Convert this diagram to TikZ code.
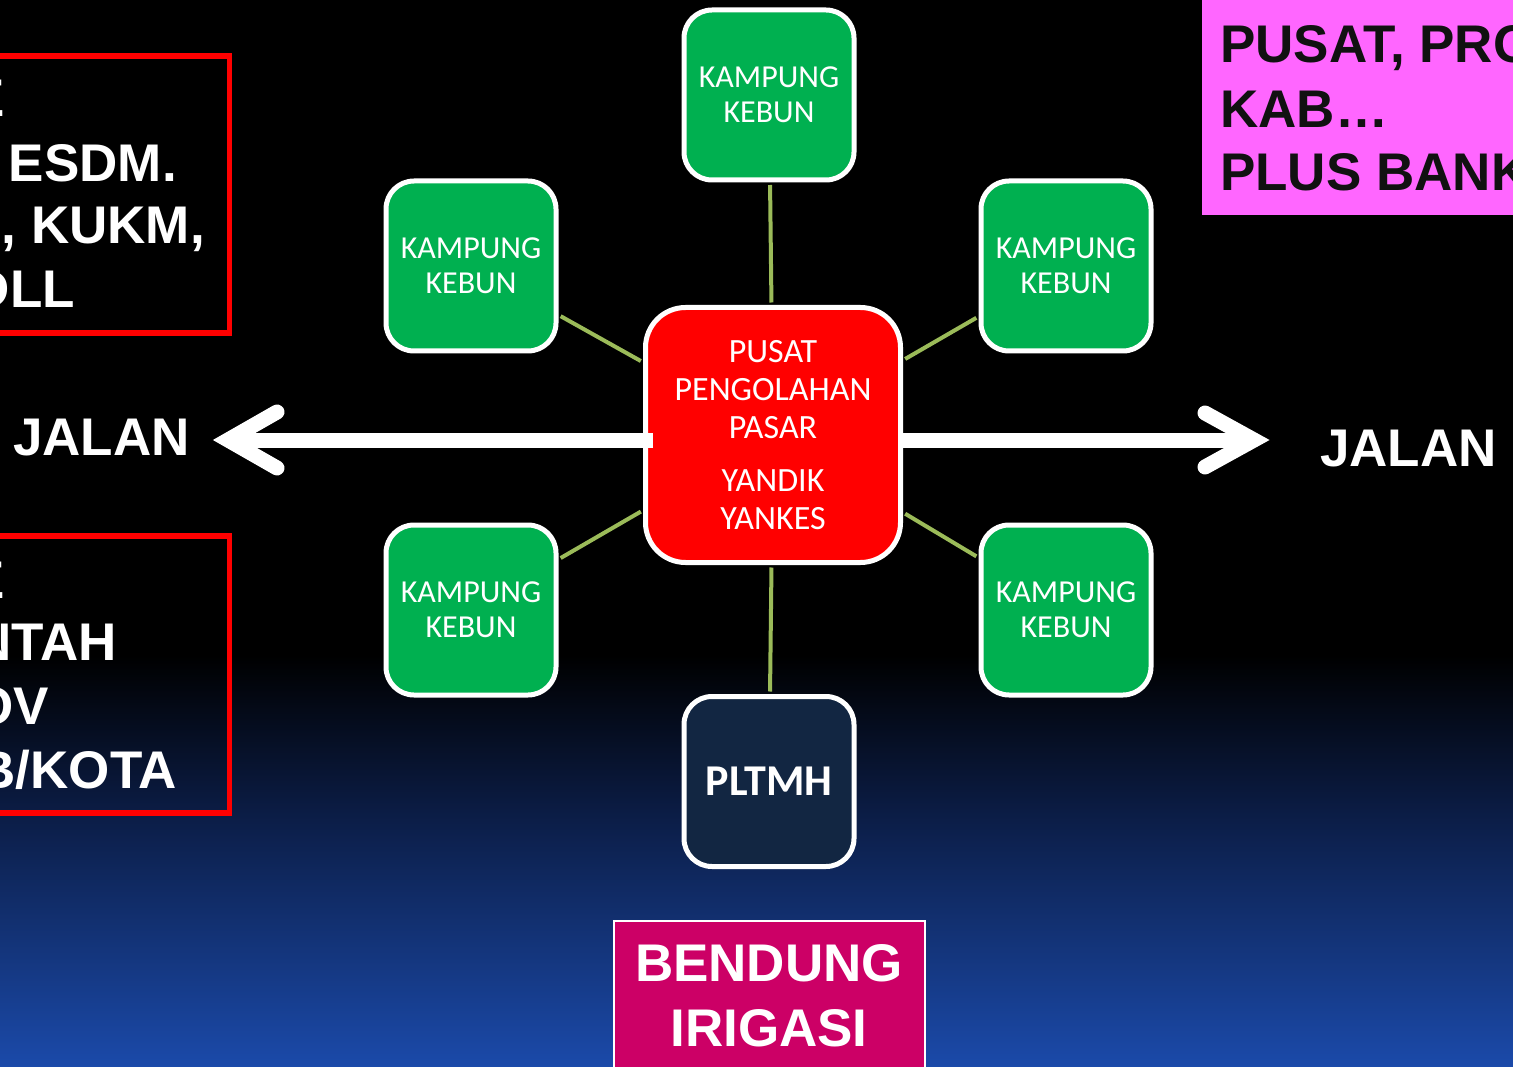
\documentclass[tikz,border=0pt]{standalone}
\usepackage{fontspec}
\newfontfamily\arialfont{Liberation Sans}
\newfontfamily\calfont{Carlito}
\usetikzlibrary{calc}

\definecolor{kampung}{RGB}{0,176,80}
\definecolor{linkgreen}{RGB}{155,187,89}
\definecolor{pusatred}{RGB}{255,0,0}
\definecolor{pltmhblue}{RGB}{18,38,66}
\definecolor{pinkfill}{RGB}{255,102,255}
\definecolor{bendungfill}{RGB}{204,0,102}
\definecolor{bgmid}{RGB}{11,28,68}
\definecolor{bgblue}{RGB}{27,74,170}
\definecolor{darktext}{RGB}{17,17,17}

\tikzset{
  kampungbox/.style={draw=white, line width=5pt, fill=kampung, rounded corners=28pt,
    minimum width=170pt, minimum height=170pt, inner sep=0pt, align=center,
    text=white, font=\calfont\fontsize{32}{35}\selectfont},
  pusatbox/.style={draw=white, line width=5pt, fill=pusatred, rounded corners=40pt,
    minimum width=255pt, minimum height=255pt, inner sep=0pt, align=center,
    text=white, font=\calfont\fontsize{34}{38}\selectfont},
  pltmhbox/.style={draw=white, line width=5pt, fill=pltmhblue, rounded corners=28pt,
    minimum width=170pt, minimum height=170pt, inner sep=0pt, align=center,
    text=white, font=\calfont\bfseries\fontsize{44}{48}\selectfont},
  link/.style={draw=linkgreen, line width=4pt, shorten <=2.5pt, shorten >=2.5pt},
  jalanarrow/.style={draw=white, line width=15pt},
  bigtext/.style={font=\arialfont\bfseries\fontsize{53}{63}\selectfont, inner sep=0pt},
  sidetext/.style={bigtext, text=white, anchor=base east},
  redframe/.style={draw=pusatred, line width=5.5pt},
}

\begin{document}
\begin{tikzpicture}[x=1pt,y=-1pt]
\useasboundingbox (0,0) rectangle (1513,1067);
\clip (0,0) rectangle (1513,1067);

% background: black fading into blue towards the bottom
\fill[black] (0,0) rectangle (1513,656);
\shade[top color=black, bottom color=bgmid] (0,655) rectangle (1513,811);
\shade[top color=bgmid, bottom color=bgblue] (0,810) rectangle (1513,1067);

% left framed notes (running off the left edge)
\draw[redframe] (-20,56) rectangle (229.5,333);
\draw[redframe] (-20,536) rectangle (229.5,813);
\node[sidetext] (a1) at (5,117) {E};
\node[sidetext] (a2) at (177,182) {ESDM.};
\node[sidetext] (a3) at (205,244) {, KUKM,};
\node[sidetext] (a4) at (75,308) {DLL};
\node[sidetext] (b1) at (5,598) {E};
\node[sidetext] (b2) at (117,660) {NTAH};
\node[sidetext] (b3) at (49,724) {OV};
\node[sidetext] (b4) at (177,788) {B/KOTA};

% pink note, top right
\fill[pinkfill] (1202,-10) rectangle (1530,215);
\node[bigtext, text=darktext, anchor=base west] (p1) at (1220,63) {PUSAT, PROV};
\node[bigtext, text=darktext, anchor=base west] (p2) at (1220,128) {KAB\dots};
\node[bigtext, text=darktext, anchor=base west] (p3) at (1220,191) {PLUS BANK};

% central hub and surrounding villages
\node[pusatbox] (pusat) at (773,435) {PUSAT\\PENGOLAHAN\\PASAR\\[15pt]YANDIK\\YANKES};
\node[kampungbox] (kbT)  at (769,95)  {KAMPUNG\\KEBUN};
\node[kampungbox] (kbUL) at (471,266) {KAMPUNG\\KEBUN};
\node[kampungbox] (kbUR) at (1066,266) {KAMPUNG\\KEBUN};
\node[kampungbox] (kbLL) at (471,610) {KAMPUNG\\KEBUN};
\node[kampungbox] (kbLR) at (1066,610) {KAMPUNG\\KEBUN};
\node[pltmhbox] (pltmh) at (769,781.5) {PLTMH};

\draw[link] (kbT) -- (pusat);
\draw[link] (kbUL) -- (pusat);
\draw[link] (kbUR) -- (pusat);
\draw[link] (kbLL) -- (pusat);
\draw[link] (kbLR) -- (pusat);
\draw[link] (pusat) -- (pltmh);

% road arrows
\coordinate (tipL) at (228,440);
\coordinate (tipR) at (1254,440);
\draw[jalanarrow] ($(pusat.west |- tipL)+(10,0)$) -- (tipL);
\draw[jalanarrow] (pusat.east |- tipR) -- (tipR);
\draw[jalanarrow, line cap=round, line join=miter]
  ($(tipL)+(49,-28)$) -- (tipL) -- ($(tipL)+(49,28)$);
\draw[jalanarrow, line cap=round, line join=miter]
  ($(tipR)+(-49,-27)$) -- (tipR) -- ($(tipR)+(-49,27)$);
\node[bigtext, text=white, anchor=base west] (jalanL) at (13,455) {JALAN};
\node[bigtext, text=white, anchor=base west] (jalanR) at (1320,466) {JALAN};

% weir box at the bottom
\node[draw=white, line width=2pt, fill=bendungfill, minimum width=311pt, minimum height=170pt,
  anchor=north, inner sep=0pt] (bendung) at (769,920) {};
\node[bigtext, text=white, anchor=base] (bd1) at (769,981) {BENDUNG};
\node[bigtext, text=white, anchor=base] (bd2) at (769,1046) {IRIGASI};
\end{tikzpicture}
\end{document}
